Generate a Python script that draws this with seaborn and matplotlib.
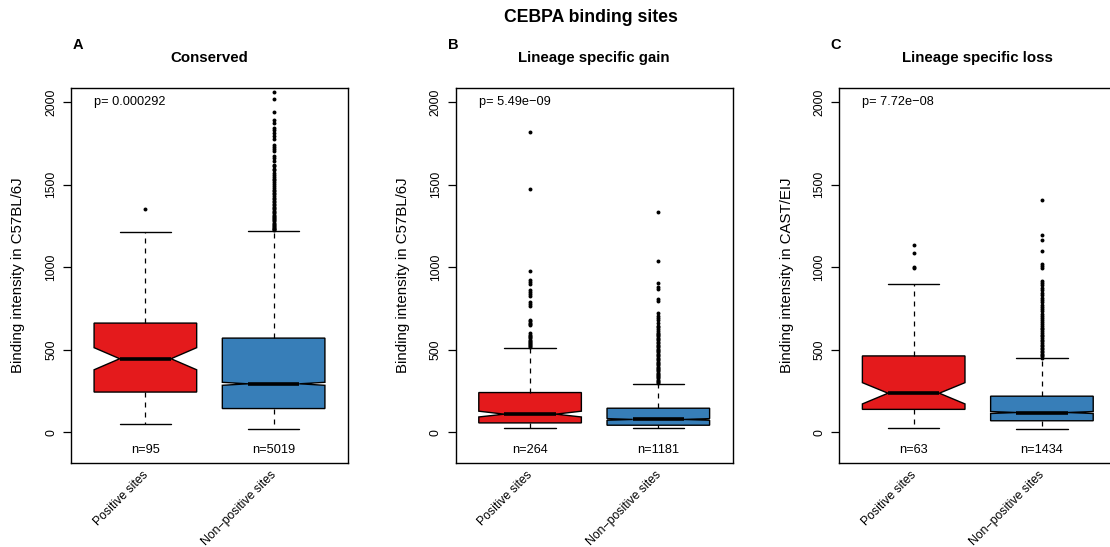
import matplotlib
matplotlib.use("Agg")
import matplotlib.pyplot as plt
import matplotlib.transforms as mtransforms
import numpy as np
import pandas as pd
import seaborn as sns

# ---------------------------------------------------------------- data
groups = ["Positive sites", "Non\u2212positive sites"]
panel_letters = ["A", "B", "C"]
panel_titles = ["Conserved", "Lineage specific gain", "Lineage specific loss"]
y_labels = ["Binding intensity in C57BL/6J",
            "Binding intensity in C57BL/6J",
            "Binding intensity in CAST/EIJ"]
p_values = ["0.000292", "5.49e\u221209", "7.72e\u221208"]
n_sites = [[95, 5019], [264, 1181], [63, 1434]]

# box summaries per panel: [positive, non-positive]
medians = [[445, 293], [109, 77], [236, 119]]
q1 = [[243, 143], [56, 42], [138, 69]]
q3 = [[661, 570], [240, 145], [462, 218]]
whisker_low = [[52, 20], [26, 26], [26, 22]]
whisker_high = [[1215, 1217], [511, 293], [897, 447]]
notch_low = [[378, 284], [92, 72], [171, 113]]
notch_high = [[512, 302], [127, 82], [300, 125]]

# outlying sites above the upper whisker
outliers_A_pos = [1353]
outliers_A_non = [2063, 2022, 1942, 1891, 1875, 1845, 1830, 1814, 1794, 1774,
                  1743, 1730, 1716, 1703, 1672, 1660, 1642, 1622, 1611, 1598,
                  1586, 1572, 1561, 1548, 1537, 1526, 1514, 1503, 1493, 1481,
                  1470, 1461, 1450, 1441, 1430, 1421, 1411, 1402, 1393, 1385,
                  1375, 1367, 1358, 1350, 1342, 1333, 1326, 1318, 1311, 1304,
                  1297, 1290, 1283, 1277, 1270, 1264, 1258, 1252, 1246, 1240,
                  1234, 1229, 1223]
outliers_B_pos = [1822, 1471, 974, 925, 912, 900, 861, 850, 838, 825, 791,
                  778, 765, 682, 672, 664, 655, 648, 600, 591, 582, 575, 568,
                  561, 553, 546, 540, 534, 528, 522, 517]
outliers_B_non = [1332, 1036, 904, 880, 866, 806, 796, 721, 703, 690, 679,
                  664, 645, 636, 625, 613, 603, 596, 587, 580, 571, 563, 556,
                  547, 540, 531, 523, 516, 507, 500, 491, 484, 475, 468, 459,
                  452, 443, 436, 427, 420, 411, 404, 396, 389, 382, 375, 369,
                  361, 354, 347, 341, 333, 327, 319, 312, 306, 299]
outliers_C_pos = [1135, 1083, 1002, 992]
outliers_C_non = [1406, 1193, 1162, 1101, 1020, 1005, 992, 915, 903, 890, 875,
                  860, 846, 830, 816, 800, 787, 772, 759, 745, 732, 719, 705,
                  693, 680, 668, 657, 645, 634, 623, 612, 601, 591, 580, 570,
                  560, 550, 541, 530, 521, 512, 503, 494, 485, 476, 467, 459,
                  450]
outliers = [[outliers_A_pos, outliers_A_non],
            [outliers_B_pos, outliers_B_non],
            [outliers_C_pos, outliers_C_non]]

box_colors = ["#E41A1C", "#377EB8"]

# ---------------------------------------------------------------- style
sns.set_style("ticks", {"axes.edgecolor": "black",
                        "xtick.color": "black", "ytick.color": "black",
                        "text.color": "black", "axes.labelcolor": "black"})
plt.rcParams["font.family"] = ["Liberation Sans", "DejaVu Sans"]
plt.rcParams["axes.linewidth"] = 1.0

W, H = 1110, 547
fig = plt.figure(figsize=(W / 100, H / 100), dpi=100)

fig.text(591 / W, 1 - 17 / H, "CEBPA binding sites", ha="center", va="center",
         fontsize=12.7, fontweight="bold")

ax_left_px = [71, 455.7, 839.3]
letter_x_px = [78, 453, 836]
ax_top_px, ax_bot_px, ax_w_px = 88, 462.5, 277
positions = [1, 2]

for i in range(3):
    ax = fig.add_axes([ax_left_px[i] / W, 1 - ax_bot_px / H,
                       ax_w_px / W, (ax_bot_px - ax_top_px) / H])

    stats = []
    for j in range(2):
        stats.append(dict(med=medians[i][j], q1=q1[i][j], q3=q3[i][j],
                          whislo=whisker_low[i][j], whishi=whisker_high[i][j],
                          cilo=notch_low[i][j], cihi=notch_high[i][j],
                          fliers=[], label=groups[j]))
    bp = ax.bxp(stats, positions=positions, widths=0.8, capwidths=0.4,
                shownotches=True, patch_artist=True, showfliers=False,
                boxprops=dict(edgecolor="black", linewidth=1.0),
                medianprops=dict(color="black", linewidth=2.6,
                                 solid_capstyle="butt"),
                whiskerprops=dict(color="black", linewidth=0.9,
                                  linestyle=(0, (4, 4))),
                capprops=dict(color="black", linewidth=1.0))
    for patch, col in zip(bp["boxes"], box_colors):
        patch.set_facecolor(col)

    # outlying points drawn as small solid dots
    pts = pd.DataFrame({
        "pos": np.concatenate([[positions[j]] * len(outliers[i][j]) for j in range(2)]),
        "value": np.concatenate([outliers[i][j] for j in range(2)]),
    })
    sns.scatterplot(data=pts, x="pos", y="value", ax=ax, color="black",
                    s=8, linewidth=0, marker="o", legend=False, zorder=3)

    ax.set_xlim(0.42, 2.58)
    ax.set_ylim(-184, 2086)
    ax.set_yticks([0, 500, 1000, 1500, 2000])
    ax.tick_params(axis="y", labelrotation=90, length=6, width=0.9,
                   labelsize=8.8, pad=4)
    for lab in ax.get_yticklabels():
        lab.set_va("center")
    ax.set_xticks(positions)
    ax.set_xticklabels(groups, rotation=45, ha="right",
                       rotation_mode="anchor", fontsize=8.8)
    ax.tick_params(axis="x", length=0, pad=4.5)
    shift = mtransforms.ScaledTranslation(-2.5 / 72, 0, fig.dpi_scale_trans)
    for lab in ax.get_xticklabels():
        lab.set_transform(lab.get_transform() + shift)
    ax.set_xlabel("")
    ax.set_ylabel(y_labels[i], fontsize=10.8)
    ax.yaxis.label.set_va("center")
    ax.yaxis.set_label_coords(-0.19, 0.5)

    for j in range(2):
        ax.text(positions[j], -107, f"n={n_sites[i][j]}", ha="center",
                va="center", fontsize=9.2)
    ax.text(0.6, 2000, f"p= {p_values[i]}", ha="left", va="center",
            fontsize=9.2)

    for s in ax.spines.values():
        s.set_visible(True)
        s.set_linewidth(1.0)
    if i == 2:
        ax.spines["right"].set_visible(False)

    fig.text((ax_left_px[i] + ax_w_px / 2) / W, 1 - 58 / H, panel_titles[i],
             ha="center", va="center", fontsize=10.8, fontweight="bold")
    fig.text(letter_x_px[i] / W, 1 - 45 / H, panel_letters[i],
             ha="center", va="center", fontsize=10.5, fontweight="bold")

fig.savefig("out.png", dpi=100)
